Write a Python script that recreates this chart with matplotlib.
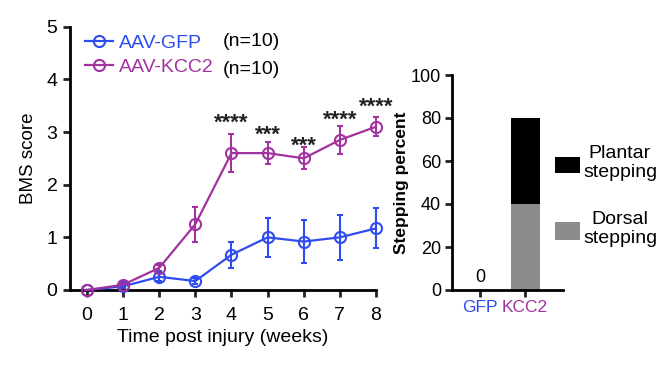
import matplotlib
matplotlib.use("Agg")
import matplotlib.pyplot as plt
from matplotlib.patches import Rectangle
from matplotlib.lines import Line2D
import numpy as np

plt.rcParams['font.family'] = ['Liberation Sans', 'DejaVu Sans']

weeks = [0, 1, 2, 3, 4, 5, 6, 7, 8]
gfp_mean = [0, 0.07, 0.25, 0.17, 0.67, 1.0, 0.92, 1.0, 1.17]
gfp_err = [0, 0.03, 0.07, 0.05, 0.25, 0.37, 0.40, 0.43, 0.38]
kcc2_mean = [0, 0.1, 0.42, 1.25, 2.6, 2.6, 2.5, 2.85, 3.1]
kcc2_err = [0, 0.03, 0.05, 0.33, 0.36, 0.21, 0.21, 0.27, 0.18]
sig_weeks = [4, 5, 6, 7, 8]
sig_labels = ['****', '***', '***', '****', '****']
sig_y = [3.22, 3.0, 2.78, 3.27, 3.53]

bar_cats = ['GFP', 'KCC2']
dorsal = [0, 40]
plantar = [0, 40]

BLUE = '#2f4cf0'
PURPLE = '#a2329e'
GRAY = '#8c8c8c'
FS = 14

fig = plt.figure(figsize=(6.64, 3.68), dpi=100)

ax = fig.add_axes([70/664, 1-290/368, (376-70)/664, (290-26.7)/368])
for m, e, c in [(gfp_mean, gfp_err, BLUE), (kcc2_mean, kcc2_err, PURPLE)]:
    ax.errorbar(weeks, m, yerr=e, color=c, lw=1.6, marker='o', ms=8, mfc='none', mew=1.5,
                capsize=2.5, elinewidth=1.5, capthick=1.5, clip_on=False, zorder=3)
for w, s, y in zip(sig_weeks, sig_labels, sig_y):
    ax.annotate(s, (w, y), xytext=(0, -2), textcoords='offset points', ha='center',
                va='center', fontsize=16, fontweight='bold', color='#222222')
ax.set_xlim(-0.47, 8)
ax.set_ylim(0, 5)
ax.set_xticks(weeks)
ax.set_yticks([0, 1, 2, 3, 4, 5])
ax.set_xlabel('Time post injury (weeks)', fontsize=FS, labelpad=4)
ax.set_ylabel('BMS score', fontsize=13.5, labelpad=7)
for sp in ['top', 'right']:
    ax.spines[sp].set_visible(False)
for sp in ['left', 'bottom']:
    ax.spines[sp].set_linewidth(2)
ax.tick_params(width=2, length=5, labelsize=FS, color='#222222', pad=4)
ax.tick_params(axis='x', pad=7)

handles = [Line2D([], [], color=BLUE, lw=1.6, marker='o', ms=8, mfc='none', mew=1.5),
           Line2D([], [], color=PURPLE, lw=1.6, marker='o', ms=8, mfc='none', mew=1.5)]
leg = ax.legend(handles, ['AAV-GFP', 'AAV-KCC2'], loc='center left',
                bbox_to_anchor=(85/664, 1-55/368), bbox_transform=fig.transFigure,
                frameon=False, fontsize=FS, handlelength=1.45, handletextpad=0.3,
                labelspacing=0.35, borderaxespad=0, borderpad=0)
for t, c in zip(leg.get_texts(), [BLUE, PURPLE]):
    t.set_color(c)
fig.text(223/664, 1-41/368, '(n=10)', fontsize=FS, va='center', ha='left')
fig.text(223/664, 1-69/368, '(n=10)', fontsize=FS, va='center', ha='left')

ax2 = fig.add_axes([452/664, 1-290/368, (563-452)/664, (290-75)/368])
x = np.arange(len(bar_cats))
ax2.bar(x, dorsal, width=0.64, color=GRAY)
ax2.bar(x, plantar, bottom=dorsal, width=0.64, color='black')
ax2.text(0, 2, '0', ha='center', va='bottom', fontsize=13)
ax2.set_xlim(-0.62, 1.84)
ax2.set_ylim(0, 100)
ax2.set_yticks([0, 20, 40, 60, 80, 100])
ax2.set_xticks(x)
ax2.set_xticklabels(bar_cats)
for t, c in zip(ax2.get_xticklabels(), [BLUE, PURPLE]):
    t.set_color(c)
ax2.set_ylabel('Stepping percent', fontsize=12.5, fontweight='bold', labelpad=1)
for sp in ['top', 'right']:
    ax2.spines[sp].set_visible(False)
for sp in ['left', 'bottom']:
    ax2.spines[sp].set_linewidth(2)
ax2.tick_params(width=2, length=5, labelsize=13, color='#222222', pad=3)
ax2.tick_params(axis='x', labelsize=12.5, pad=2)

fig.patches.append(Rectangle((555/664, 1-173/368), 25/664, 16/368, transform=fig.transFigure,
                             facecolor='black', edgecolor='none'))
fig.patches.append(Rectangle((555/664, 1-240/368), 25/664, 18/368, transform=fig.transFigure,
                             facecolor=GRAY, edgecolor='none'))
fig.text(620/664, 1-163/368, 'Plantar\nstepping', ha='center', va='center', fontsize=FS, linespacing=1.1)
fig.text(620/664, 1-229/368, 'Dorsal\nstepping', ha='center', va='center', fontsize=FS, linespacing=1.1)

fig.savefig('out.png', dpi=100)
